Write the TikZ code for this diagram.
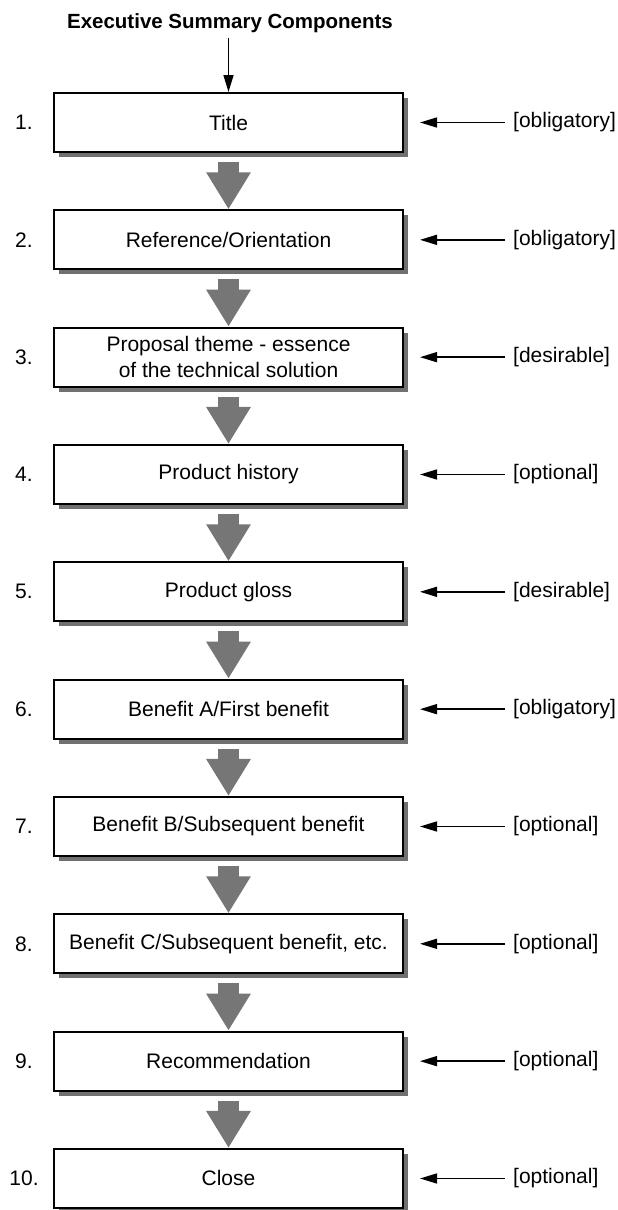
\documentclass[tikz,border=0pt]{standalone}
\usepackage{fontspec}
\setmainfont{Liberation Sans}
\usetikzlibrary{arrows.meta,shadows,calc}
\definecolor{flowgray}{HTML}{767676}
\definecolor{shadowgray}{HTML}{707070}
\begin{document}
\begin{tikzpicture}[x=1pt,y=-1pt,
  stepbox/.style={draw=black, line width=2pt, fill=white,
    minimum width=349pt, minimum height=59pt, inner sep=0pt,
    align=center, font=\fontsize{21}{26}\selectfont,
    drop shadow={shadow xshift=5pt, shadow yshift=-5pt,
      fill=shadowgray, opacity=1}},
  numlabel/.style={inner sep=0pt, font=\fontsize{21}{25}\selectfont},
  ratelabel/.style={inner sep=0pt, anchor=west, font=\fontsize{21}{25}\selectfont},
  flow/.style={draw=flowgray, line width=21pt, line cap=butt,
    -{Triangle[length=37pt, width=42pt]}},
  pointer/.style={draw=black, line width=1.5pt,
    -{Triangle[length=17pt, width=10pt]}}]

\useasboundingbox[fill=white] (0,0) rectangle (618,1210);

% heading
\node[inner sep=0pt, font=\bfseries\fontsize{20.5}{24}\selectfont] (head) at (230,23)
  {Executive Summary Components};

% the ten components with their numbers and status labels
\foreach \i/\txt/\lab in {
  1/{Title}/{obligatory},
  2/{Reference/Orientation}/{obligatory},
  3/{Proposal theme - essence\\of the technical solution}/{desirable},
  4/{Product history}/{optional},
  5/{Product gloss}/{desirable},
  6/{Benefit A/First benefit}/{obligatory},
  7/{Benefit B/Subsequent benefit}/{optional},
  8/{Benefit C/Subsequent benefit, etc.}/{optional},
  9/{Recommendation}/{optional},
  10/{Close}/{optional}}{
  \pgfmathsetmacro{\yc}{122.5+(\i-1)*117.33}
  \node[stepbox] (b\i) at (228.5,\yc) {\txt};
  \node[numlabel] (n\i) at (24,\yc) {\i.};
  \node[ratelabel] (r\i) at (513,\yc) {[\lab]};
  \draw[pointer, shorten <=8pt, shorten >=16pt] (r\i.west) -- (b\i.east);
}

% heading arrow
\draw[pointer, shorten <=5pt] (head.south -| b1.north) -- (b1.north);

% grey flow arrows between consecutive components
\foreach \i [evaluate=\i as \j using int(\i+1)] in {1,...,9}{
  \draw[flow] ($(b\i.south)+(0,9)$) -- (b\j.north);
}
\end{tikzpicture}
\end{document}
